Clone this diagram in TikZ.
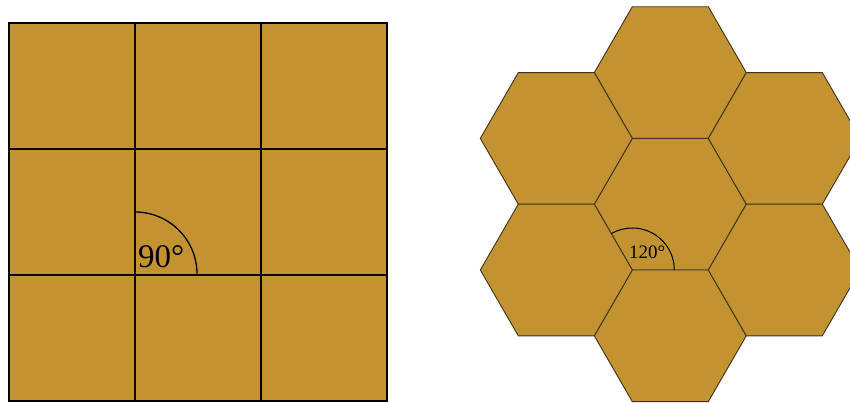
\documentclass[tikz,border=0pt]{standalone}
\usepackage{fontspec}
\setmainfont{Liberation Serif}
\usepackage{tikz}

\definecolor{tilegold}{RGB}{195,147,50}
\definecolor{hexline}{RGB}{60,50,30}

\tikzset{
  squarecell/.style={fill=tilegold, draw=black, line width=1.6pt},
  hexcell/.style={fill=tilegold, draw=hexline, line width=0.9pt, line join=miter},
  anglearc/.style={draw=black, line width=1.3pt},
  anglelabel/.style={inner sep=0pt, anchor=base west}
}

\begin{document}
\begin{tikzpicture}[x=1pt, y=1pt]
    \useasboundingbox (0,0) rectangle (850,403);
    \clip (0,0) rectangle (850,403);

    % Squares
    \foreach \i in {0,1,2} {
      \foreach \j in {0,1,2} {
        \draw[squarecell] (9+126*\i, 2+126*\j) rectangle ++(126,126);
      }
    }
    \draw[black, line width=2.2pt] (9,2) rectangle (387,380);

    % Right angle
    \coordinate (sq) at (135,129);
    \draw[anglearc] (sq) ++(62,0) arc[start angle=0, end angle=90, radius=62];
    \node[anglelabel, font=\fontsize{33}{36}\selectfont] (ninety) at (138,135) {90°};

    % Hexagons
    \foreach \dx/\dy in {0/0, 0/131.6, 0/-131.6, -114/65.8, -114/-65.8, 114/65.8, 114/-65.8} {
      \draw[hexcell] (670.3+\dx, 198.8+\dy) +(0:76) -- +(60:76) -- +(120:76)
        -- +(180:76) -- +(240:76) -- +(300:76) -- cycle;
    }

    % Hexagon angle
    \coordinate (hx) at (632.3,133);
    \draw[anglearc, line width=1pt] (hx) ++(42,0) arc[start angle=0, end angle=120, radius=42];
    \node[anglelabel, font=\fontsize{19}{22}\selectfont] (onetwenty) at (629,144) {120°};
\end{tikzpicture}
\end{document}
